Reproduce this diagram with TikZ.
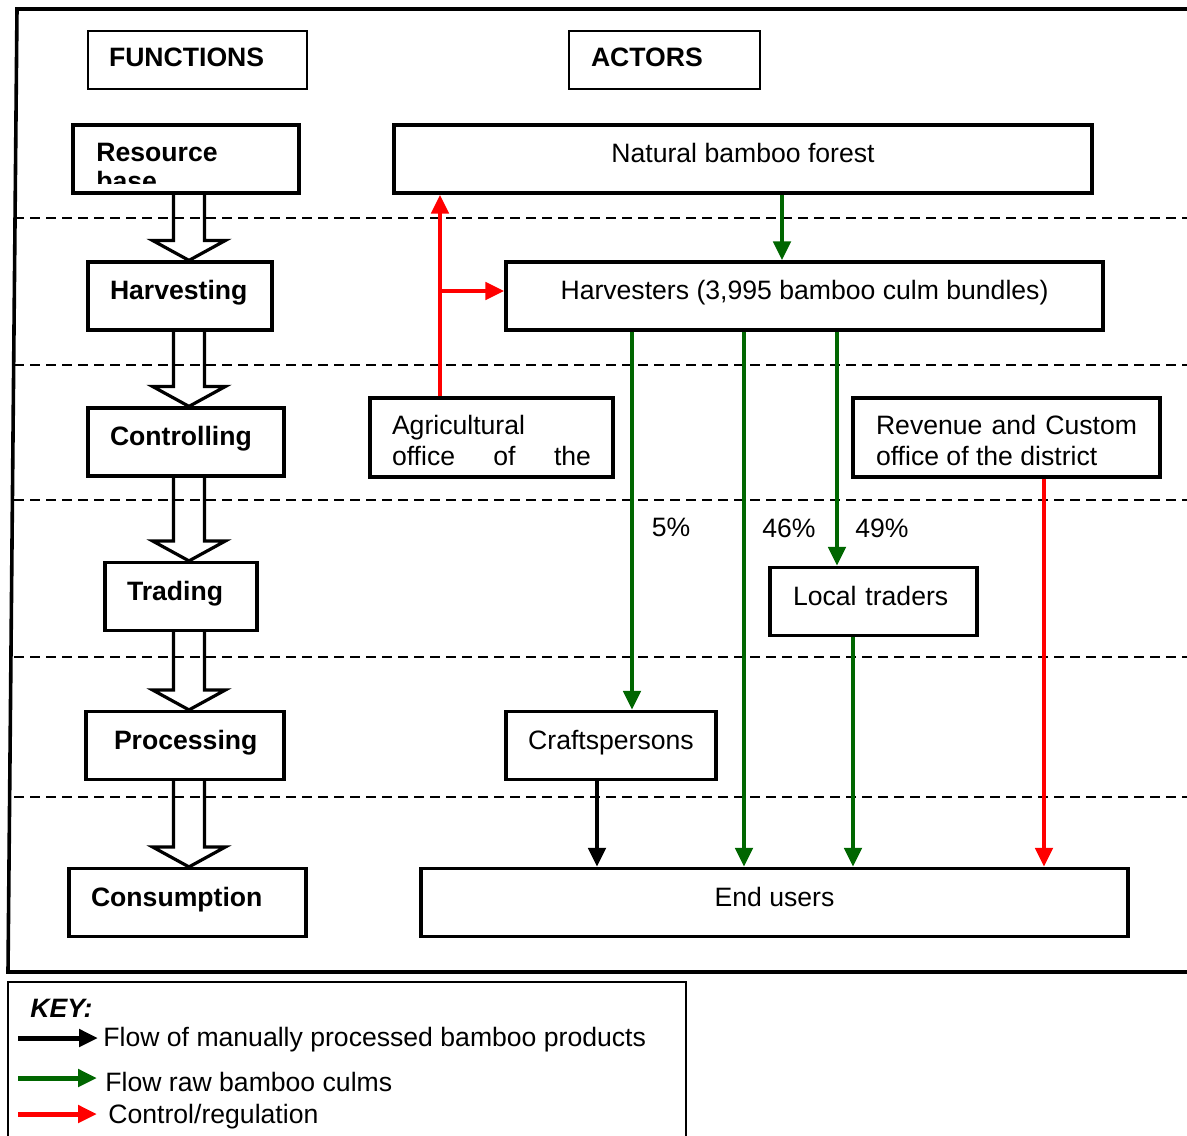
\documentclass[tikz,border=0pt]{standalone}
\usepackage{fontspec}
\setmainfont{Liberation Sans}
\usetikzlibrary{ arrows.meta
               , calc
               }
\definecolor{rawgreen}{RGB}{0,102,0}
\definecolor{ctrlred}{RGB}{255,0,0}
\newcommand{\chartfont}{\fontsize{13.3pt}{15.5pt}\selectfont}

\begin{document}
\begin{tikzpicture}
      [ x=0.5pt, y=-0.5pt
      , box/.style={draw, line width=1.6pt, font=\chartfont}
      , funbox/.style={box, minimum height=34pt, inner xsep=11pt, align=left, text height=9.5pt, text depth=6pt, font=\chartfont\bfseries}
      , actbox/.style={box, minimum height=34pt, text height=9.5pt, text depth=6pt}
      , twobox/.style={box, minimum height=39.5pt, inner xsep=11pt, align=left}
      , headbox/.style={draw, line width=1pt, minimum height=29pt, anchor=west, align=left, text height=9.5pt, text depth=3pt, font=\chartfont\bfseries}
      , hollow/.style={line width=1.6pt}
      , raw/.style={rawgreen, draw, line width=2.3pt, -{Triangle[length=9.5pt, width=8.5pt]}}
      , ctrl/.style={ctrlred, draw, line width=2.3pt, -{Triangle[length=9.5pt, width=8.5pt]}}
      , made/.style={black, draw, line width=2.3pt, -{Triangle[length=9.5pt, width=8.5pt]}}
      , band/.style={line width=0.75pt, dash pattern=on 5pt off 3pt}
      , pct/.style={font=\chartfont}
      , keytext/.style={anchor=west, font=\chartfont}
      ]
    \useasboundingbox (0,0) rectangle (1187,1135);

    % frame and layer lines
    \draw[line width=1.8pt] (1195,9) -- (17,9) -- (8,972) -- (1195,972);
    \foreach \y in {218,365,500,657,797}
        \draw[band] (14,\y) -- (1187,\y);

    \node[headbox, text width=88.5pt, inner xsep=10.5pt] (FN) at (87,60) {FUNCTIONS};
    \node[headbox, text width=73.5pt, inner xsep=11pt] (AC) at (568,60) {ACTORS};

    % functions
    \node[funbox, text width=91pt] (RB) at (186,159) {};
    \begin{scope}
        \clip (73,125) rectangle (299,183);
        \node[anchor=north west, inner sep=0pt, align=left, font=\fontsize{13.3pt}{14.5pt}\selectfont\bfseries] (RBt) at (96,143) {Resource\\base};
    \end{scope}
    \node[funbox, text width=70pt] (HV) at (180,296) {Harvesting};
    \node[funbox, text width=76pt] (CT) at (186,442) {Controlling};
    \node[funbox, text width=54pt] (TR) at (181,596.5) {Trading};
    \node[funbox, text width=71pt, inner xsep=14pt] (PR) at (185,745.5) {Processing};
    \node[funbox, text width=96.5pt] (CS) at (187.5,902.5) {Consumption};

    \coordinate (axis) at (189,0);
    \foreach \a/\b in {RB/HV, HV/CT, CT/TR, TR/PR, PR/CS}
        \draw[hollow] ($(\a.south -| axis)+(-15.5,0)$) -- ($(\b.north -| axis)+(-15.5,-20)$)
            -- ++(-21,0) -- (\b.north -| axis) -- ($(\b.north -| axis)+(36.5,-20)$)
            -- ++(-21,0) -- ($(\a.south -| axis)+(15.5,0)$);

    % actors
    \node[actbox, minimum width=349pt] (NBF) at (743,159) {Natural bamboo forest};
    \node[actbox, minimum width=298.5pt] (HA) at (804.5,296) {Harvesters (3,995 bamboo culm bundles)};
    \node[twobox] (AO) at (491.5,437.5) {\rule{0pt}{12.6pt}Agricultural\\\makebox[99.5pt][s]{office of the}};
    \node[twobox, inner xsep=11.5pt] (RC) at (1006.5,437.5) {\rule{0pt}{12.6pt}\makebox[130.5pt][s]{Revenue and Custom}\\office of the district};
    \node[actbox, align=left, inner xsep=11.5pt, text width=80.5pt] (LT) at (873.5,601.5) {Local traders};
    \node[actbox, minimum width=105pt] (CP) at (611,745.5) {Craftspersons};
    \node[actbox, minimum width=353.5pt] (EU) at (774.5,902.5) {End users};

    \coordinate (xR) at (440,0);
    \coordinate (xA) at (782,0);
    \coordinate (xC) at (632,0);
    \coordinate (xE) at (744,0);
    \coordinate (xL) at (837,0);
    \coordinate (xT) at (853,0);
    \coordinate (xK) at (597,0);
    \coordinate (xV) at (1044,0);

    \draw[raw] (NBF.south -| xA) -- (HA.north -| xA);
    \draw[raw] (HA.south -| xC) -- (CP.north -| xC);
    \draw[raw] (HA.south -| xE) -- (EU.north -| xE);
    \draw[raw] (HA.south -| xL) -- (LT.north -| xL);
    \draw[raw] (LT.south -| xT) -- (EU.north -| xT);
    \draw[made] (CP.south -| xK) -- (EU.north -| xK);
    \draw[ctrl] (AO.north -| xR) -- (NBF.south -| xR);
    \draw[ctrl] ([yshift=2.5pt]HA.west -| xR) -- ([yshift=2.5pt]HA.west);
    \draw[ctrl] (RC.south -| xV) -- (EU.north -| xV);

    \node[pct] (P5) at (671,527) {5\%};
    \node[pct] (P46) at (789,528) {46\%};
    \node[pct] (P49) at (882,528) {49\%};

    % key
    \draw[line width=0.8pt] (8,1145) -- (8,982) -- (686,982) -- (686,1145);
    \node[anchor=west, inner sep=0pt, font=\chartfont\bfseries\itshape] (KEY) at (30,1008) {KEY:};
    \coordinate (k1) at (18,1038);
    \coordinate (k2) at (18,1078);
    \coordinate (k3) at (18,1114);
    \node[keytext, inner xsep=2.5pt] (K1) at (98,1040) {Flow of manually processed bamboo products};
    \node[keytext, inner xsep=4pt] (K2) at (97,1082) {Flow raw bamboo culms};
    \node[keytext, inner xsep=5.5pt] (K3) at (97,1117) {Control/regulation};
    \draw[made, line width=2.5pt] (k1) -- (k1 -| K1.west);
    \draw[raw, line width=2.5pt] (k2) -- (k2 -| K2.west);
    \draw[ctrl, line width=2.5pt] (k3) -- (k3 -| K3.west);
\end{tikzpicture}
\end{document}
